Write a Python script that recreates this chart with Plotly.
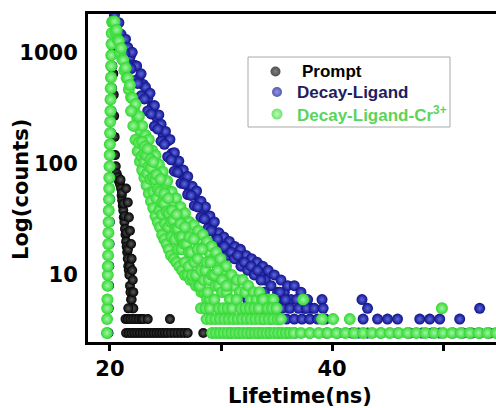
import plotly.graph_objects as go

# ---------------- data ----------------
# Prompt (instrument response)
prompt_rise_t = [19.86, 19.88, 19.90, 19.92, 19.94, 19.96, 19.98, 20.00, 20.03, 20.06, 20.09, 20.12, 20.15, 20.18]
prompt_rise_c = [3, 5, 8, 12, 19, 30, 48, 75, 120, 190, 300, 480, 760, 1200]
prompt_decay_t = [20.22, 20.26, 20.3, 20.34, 20.38, 20.42, 20.46, 20.52, 20.6, 20.7, 20.8, 20.9, 21.0, 21.05,
                  21.1, 21.15, 21.2, 21.25, 21.3, 21.35, 21.4, 21.45, 21.5, 21.55, 21.6, 21.65, 21.7, 21.75,
                  21.8, 21.85, 21.9, 21.95, 22.0, 22.1,
                  20.95, 21.08, 21.22, 21.33, 21.48, 21.62, 21.78,
                  21.45, 21.6, 21.7, 21.8, 21.9, 21.95, 22.0, 22.05, 22.1]
prompt_decay_c = [1500, 1000, 650, 420, 270, 175, 120, 95, 82, 76, 70, 66, 60, 52,
                  47, 42, 38, 33, 30, 26, 23, 20, 18, 16, 14, 12, 11, 10,
                  8, 7, 6, 6, 5, 5,
                  72, 55, 44, 34, 24, 17, 12,
                  60, 45, 33, 25, 19, 14, 11, 9, 7]
prompt_base_t = [21.4, 21.6, 21.65, 21.85, 22.1, 22.35, 22.6, 22.85, 23.0, 23.4, 25.4,
                 21.45, 21.7, 21.95, 22.2, 22.45, 22.7, 22.95, 23.2, 23.45, 23.7, 23.95, 24.2, 24.45,
                 24.7, 24.95, 25.2, 25.5, 25.8, 26.1, 26.4, 26.7, 27.0, 28.4]
prompt_base_c = [4, 4, 5, 4, 4, 4, 4, 4, 4, 4, 4,
                 3, 3, 3, 3, 3, 3, 3, 3, 3, 3, 3, 3, 3,
                 3, 3, 3, 3, 3, 3, 3, 3, 3, 3]

# Decay-Ligand
ligand_rise_t = [19.80, 19.83, 19.86, 19.89, 19.92, 19.95, 19.98, 20.01, 20.04, 20.07, 20.10, 20.14, 20.18, 20.22, 20.27]
ligand_rise_c = [3, 5, 8, 12, 19, 30, 48, 75, 120, 190, 300, 480, 760, 1200, 1900]
ligand_decay_t = [20.4, 20.6, 20.8, 21.0, 21.2, 21.4, 21.6, 21.8, 22.0, 22.2, 22.4, 22.6, 22.8, 23.0, 23.2,
                  23.4, 23.6, 23.8, 24.0, 24.2, 24.4, 24.6, 24.8, 25.0, 25.2, 25.4, 25.6, 25.8, 26.0, 26.2,
                  26.4, 26.6, 26.8, 27.0, 27.2, 27.4, 27.6, 27.8, 28.0, 28.2, 28.4, 28.6, 28.8, 29.0, 29.2,
                  29.4, 29.6, 29.8, 30.0,
                  30.25, 30.5, 30.75, 31.0, 31.25, 31.5, 31.75, 32.0, 32.25, 32.5, 32.75, 33.0, 33.25, 33.5,
                  33.75, 34.0, 34.25,
                  34.5, 34.8, 35.1, 35.4, 35.7, 36.0, 36.3, 36.6, 36.9, 37.2, 37.5, 37.8, 38.1]
ligand_decay_c = [2200, 1739, 1870, 1469, 1214, 1327, 1120, 915, 1012, 774, 762, 587, 647, 519, 491,
                  390, 433, 330, 335, 264, 276, 228, 180, 196, 161, 166, 125, 126, 104, 106,
                  82, 88, 75, 77, 59, 63, 53, 57, 44, 46, 39, 41, 31, 34, 28,
                  30, 23, 24, 20,
                  22, 17, 20, 15, 18, 14, 17, 13, 15, 12, 14, 11, 13, 10,
                  12, 9, 11,
                  8, 10, 7, 9, 7, 8, 6, 8, 6, 7, 5, 6, 5]
ligand_inner_t = [21.0, 21.3, 21.6, 21.9, 22.2, 22.5, 22.8, 23.1, 23.4, 23.7, 24.0, 24.3, 24.6, 24.9, 25.2,
                  25.5, 25.8, 26.1, 26.4, 26.7, 27.0, 27.3, 27.6, 27.9, 28.2, 28.5, 28.8, 29.1, 29.4, 29.7,
                  30.0, 30.3, 30.6, 30.9, 31.2, 31.5, 31.8, 32.1, 32.4, 32.7, 33.0, 33.3, 33.6]
ligand_inner_c = [1050, 990, 780, 720, 560, 530, 410, 385, 300, 282, 218, 206, 160, 150, 116,
                  109, 86, 84, 67, 66, 53, 52, 42, 41, 33, 32, 26, 25, 20, 21,
                  17, 18, 15, 16, 14, 15, 12, 13, 11, 12, 10, 11, 9]
ligand_tail_t = [32.0, 32.4, 33.0, 33.3, 33.6, 33.8, 33.9, 34.0, 34.2, 34.5, 34.9, 35.0, 35.2, 35.3, 35.5,
                 35.8, 35.9, 36.2, 36.6, 36.8, 37.0, 37.3, 37.7, 38.0, 38.4, 38.7, 39.1, 39.2, 39.4,
                 42.7, 43.2, 53.3,
                 42.8, 44.1, 45.0, 45.9, 47.9, 48.8, 49.7, 51.5,
                 30.8, 31.6, 32.5, 33.4, 34.3, 35.2, 36.0, 36.7, 38.0, 39.5, 40.5, 41.8, 42.4, 43.2,
                 44.4, 45.9, 47.0, 48.1, 49.0, 49.7, 50.9, 51.8, 52.6, 53.3, 54.2]
ligand_tail_c = [7, 6, 5, 6, 5, 4, 7, 6, 5, 4, 5, 6, 4, 7, 5,
                 6, 4, 5, 4, 6, 5, 4, 5, 4, 5, 4, 6, 5, 4,
                 6, 5, 5,
                 4, 4, 4, 4, 4, 4, 4, 4,
                 3, 3, 3, 3, 3, 3, 3, 3, 3, 3, 3, 3, 3, 3,
                 3, 3, 3, 3, 3, 3, 3, 3, 3, 3, 3]

# Decay-Ligand-Cr3+
cr_rise_t = [19.72, 19.74, 19.75, 19.77, 19.78, 19.80, 19.81, 19.83, 19.85, 19.86, 19.88, 19.89, 19.91, 19.93,
             19.94, 19.96, 19.97, 19.99, 20.01, 20.02, 20.04, 20.05, 20.07, 20.09, 20.10, 20.12, 20.14, 20.16, 20.19]
cr_rise_c = [3, 4, 5, 6, 8, 10, 12, 15, 19, 24, 30, 38, 48, 60, 75, 95, 120, 150, 190, 240, 300, 380,
             480, 600, 760, 950, 1200, 1500, 1900]
cr_decay_t = [20.3, 20.4, 20.5, 20.6, 20.7, 20.8, 20.9, 21.0, 21.1, 21.2, 21.3, 21.4, 21.5, 21.6, 21.7, 21.8, 21.9, 22.0,
              22.15, 22.3, 22.45, 22.6, 22.75, 22.9, 23.05, 23.2, 23.35, 23.5, 23.65, 23.8, 23.95, 24.1, 24.25,
              24.4, 24.55,
              24.75, 24.95, 25.15, 25.35, 25.55, 25.75, 25.95, 26.15, 26.35, 26.55, 26.75, 26.95, 27.15, 27.35,
              27.55, 27.75, 27.95, 28.15, 28.35, 28.55, 28.75, 28.95, 29.15, 29.35, 29.55, 29.75, 29.95,
              30.2, 30.45, 30.7, 30.95, 31.2, 31.45, 31.7, 31.95, 32.2, 32.45, 32.7, 32.95, 33.2, 33.45,
              33.7, 33.95, 34.2, 34.45, 34.7, 34.95, 35.2]
cr_decay_c = [1890, 1915, 1526, 1608, 1311, 1276, 1003, 1103, 881, 859, 696, 735, 593, 594, 468, 514, 399, 393,
              310, 346, 260, 269, 198, 220, 170, 181, 140, 165, 126, 132, 105, 119, 94,
              99, 78,
              85, 66, 70, 52, 56, 44, 49, 37, 41, 33, 36, 27, 30, 25,
              28, 22, 25, 20, 23, 18, 20, 16, 18, 14, 16, 12, 14,
              11, 12, 9, 10, 8, 9, 7, 9, 7, 8, 6, 7, 6, 7,
              6, 5, 6, 5, 6, 5, 4]
cr_fast_t = [21.9, 22.1, 22.3, 22.5, 22.7, 22.9, 23.1, 23.3, 23.5, 23.7, 23.9, 24.1, 24.3, 24.5, 24.7,
             24.9, 25.1, 25.3, 25.5, 25.75, 26.0, 26.25, 26.5, 26.75, 27.0, 27.25, 27.5, 27.75, 28.0, 28.25,
             28.5, 28.75, 29.0]
cr_fast_c = [300, 220, 165, 130, 105, 88, 75, 64, 54, 46, 40, 34, 30, 27, 23,
             21, 19, 17, 15, 14, 13, 12, 11, 10, 10, 9, 9, 8, 8, 7,
             7, 6, 6]
cr_fill_a_t = [22.6, 22.85, 23.1, 23.35, 23.65, 23.9, 24.2, 24.45, 24.7, 24.95, 25.25, 25.55, 25.85, 26.15,
               26.45, 26.75, 27.1, 27.4, 27.75, 28.1, 28.45, 28.8]
cr_fill_a_c = [156, 118, 104, 82, 73, 56, 49, 38, 35, 29, 27, 22, 21, 17,
               17, 13, 12, 10, 10, 8, 9, 7]
cr_mid_t = [22.9, 23.1, 23.3, 23.5, 23.7, 23.9, 24.1, 24.3, 24.5, 24.7, 24.9, 25.1, 25.3, 25.5, 25.7,
            25.9, 26.1, 26.3, 26.5, 26.7, 26.9, 27.1, 27.3, 27.6, 27.9, 28.2, 28.6, 28.9, 29.2, 29.5,
            29.8, 30.1, 30.5, 30.8]
cr_mid_c = [158, 124, 119, 96, 92, 75, 72, 59, 56, 45, 44, 37, 36, 30, 31,
            26, 26, 22, 22, 19, 19, 16, 16, 13, 14, 11, 11, 9, 10, 8,
            8, 7, 7, 6]
cr_fill_b_t = [23.15, 23.4, 23.65, 23.9, 24.2, 24.55, 24.9, 25.25, 25.6, 26.0, 26.35, 26.75, 27.15, 27.55,
               27.9, 28.3, 28.7, 29.05, 29.4, 29.7, 30.1, 30.5]
cr_fill_b_c = [144, 136, 110, 104, 80, 73, 54, 49, 38, 35, 29, 27, 22, 21,
               17, 17, 13, 13, 10, 11, 9, 8]
cr_rows_t = [28.2, 28.6, 29.0, 29.4, 29.8, 30.2, 30.6, 31.0, 31.4, 31.8, 32.2, 32.6, 33.0, 33.4, 33.8, 34.2, 34.6, 35.0,
             28.7, 29.1, 29.5, 29.9, 30.3, 30.7, 31.1, 31.5, 31.9, 32.3, 32.7, 33.1, 33.5, 33.9, 34.3, 34.7, 35.1, 35.4,
             39.1, 40.1, 41.6, 37.4, 49.9,
             29.2, 29.55, 29.9, 30.25, 30.6, 30.95, 31.3, 31.65, 32.0, 32.35, 32.7, 33.05, 33.4, 33.75, 34.1,
             34.45, 34.8, 35.15, 35.5, 35.85, 36.2, 36.55,
             37.2, 38.0, 38.8, 39.6, 40.4, 41.2, 42.0, 42.8, 43.6, 44.4, 45.2, 46.0, 46.8, 47.6, 48.4,
             49.2, 50.0, 50.8, 51.6, 52.4, 53.2, 54.0, 54.8]
cr_rows_c = [5, 5, 5, 6, 5, 5, 5, 5, 6, 5, 5, 5, 5, 5, 6, 5, 5, 5,
             4, 4, 4, 4, 4, 4, 4, 4, 4, 4, 4, 4, 4, 4, 4, 4, 4, 4,
             4, 4, 4, 6, 5,
             3, 3, 3, 3, 3, 3, 3, 3, 3, 3, 3, 3, 3, 3, 3,
             3, 3, 3, 3, 3, 3, 3,
             3, 3, 3, 3, 3, 3, 3, 3, 3, 3, 3, 3, 3, 3, 3,
             3, 3, 3, 3, 3, 3, 3, 3]

series_names = ["Prompt", "Decay-Ligand", "Decay-Ligand-Cr<sup>3+</sup>"]
series_text_colors = ["#000000", "#1c205e", "#5cd45c"]

x_tick_vals = [20, 40]
x_tick_text = ["20", "40"]
x_minor_vals = [30, 50]
y_tick_vals = [10, 100, 1000]
y_tick_text = ["10", "100", "1000"]

x_title = "Lifetime(ns)"
y_title = "Log(counts)"

# ---------------- styling ----------------
AX_FONT = dict(family="DejaVu Sans", size=21, color="black", weight="bold")
LEG_FONT_SIZE = 17
marker_colors = ["#030303", "#10108a", "#30d830"]
marker_glows = ["#5a5a5a", "#5d6be0", "#a2f5a2"]
marker_sizes = [10, 11, 12]

L, R, T, B = 88, 0, 14, 66
W, H = 496, 408
pw, ph = W - L - R, H - T - B


def px(xp):
    return (xp - L) / pw


def py(yp):
    return (H - B - yp) / ph


def sphere_trace(i, ts, cs):
    return go.Scatter(
        x=ts, y=cs, mode="markers", name=series_names[i], showlegend=False, hoverinfo="x+y",
        marker=dict(size=marker_sizes[i], color=marker_colors[i], line=dict(width=0),
                    gradient=dict(type="radial", color=marker_glows[i])),
    )


fig = go.Figure()
fig.add_trace(sphere_trace(0,
                           prompt_rise_t + prompt_decay_t + prompt_base_t,
                           prompt_rise_c + prompt_decay_c + prompt_base_c))
fig.add_trace(sphere_trace(1,
                           ligand_rise_t + ligand_decay_t + ligand_inner_t + ligand_tail_t,
                           ligand_rise_c + ligand_decay_c + ligand_inner_c + ligand_tail_c))
fig.add_trace(sphere_trace(2,
                           cr_rise_t + cr_decay_t + cr_fast_t + cr_fill_a_t + cr_mid_t + cr_fill_b_t + cr_rows_t,
                           cr_rise_c + cr_decay_c + cr_fast_c + cr_fill_a_c + cr_mid_c + cr_fill_b_c + cr_rows_c))

# legend box (drawn by hand so that its size and spacing match)
leg_marker_x = [275.5, 277, 277]
leg_marker_y = [71.5, 92, 114]
leg_marker_sizes = [10, 10, 11]
leg_marker_glows = ["#4a4a4a", "#5d6be0", "#a2f5a2"]
leg_text_x = [300, 295, 295]
fig.add_trace(go.Scatter(
    x=leg_marker_x, y=leg_marker_y, xaxis="x2", yaxis="y2", mode="markers", showlegend=False,
    hoverinfo="skip", cliponaxis=False,
    marker=dict(size=leg_marker_sizes, color=marker_colors, line=dict(width=0),
                gradient=dict(type="radial", color=leg_marker_glows)),
))

annotations = [
    dict(text=x_title, xref="paper", yref="paper", x=px(300), y=py(396),
         xanchor="center", yanchor="middle", showarrow=False, font=AX_FONT),
    dict(text=y_title, xref="paper", yref="paper", x=px(21), y=py(190),
         xanchor="center", yanchor="middle", showarrow=False, textangle=-90, font=AX_FONT),
]
for i in range(3):
    annotations.append(dict(
        text=series_names[i], xref="paper", yref="paper", x=px(leg_text_x[i]), y=py(leg_marker_y[i]),
        xanchor="left", yanchor="middle", showarrow=False,
        font=dict(family="Liberation Sans", size=LEG_FONT_SIZE, color=series_text_colors[i], weight="bold")))

fig.update_layout(
    width=W, height=H,
    margin=dict(l=L, r=R, t=T, b=B, pad=0),
    paper_bgcolor="white", plot_bgcolor="white",
    showlegend=False,
    shapes=[dict(type="rect", xref="paper", yref="paper",
                 x0=px(248), x1=px(450), y0=py(127), y1=py(57),
                 line=dict(color="#a8a8a8", width=1), fillcolor="rgba(0,0,0,0)")],
    annotations=annotations,
    xaxis2=dict(overlaying="x", range=[L, W], visible=False, showgrid=False, zeroline=False),
    yaxis2=dict(overlaying="y", range=[H - B, T], visible=False, showgrid=False, zeroline=False),
)

fig.update_layout(xaxis=dict(
    range=[18.02, 54.77], tickmode="array", tickvals=x_tick_vals, ticktext=x_tick_text,
    ticks="outside", ticklen=6, tickwidth=2.5, tickcolor="black",
    minor=dict(tickmode="array", tickvals=x_minor_vals, ticks="outside", ticklen=6, tickwidth=2.5,
               tickcolor="black", showgrid=False),
    showline=True, linewidth=3, linecolor="black", mirror=True,
    showgrid=False, zeroline=False, tickfont=AX_FONT))
fig.update_layout(yaxis=dict(
    type="log", range=[0.396, 3.35], tickmode="array", tickvals=y_tick_vals, ticktext=y_tick_text,
    ticks="", showline=True, linewidth=3, linecolor="black", mirror=False,
    showgrid=False, zeroline=False, tickfont=AX_FONT, ticklabelstandoff=3))

fig.write_html("out.html")
